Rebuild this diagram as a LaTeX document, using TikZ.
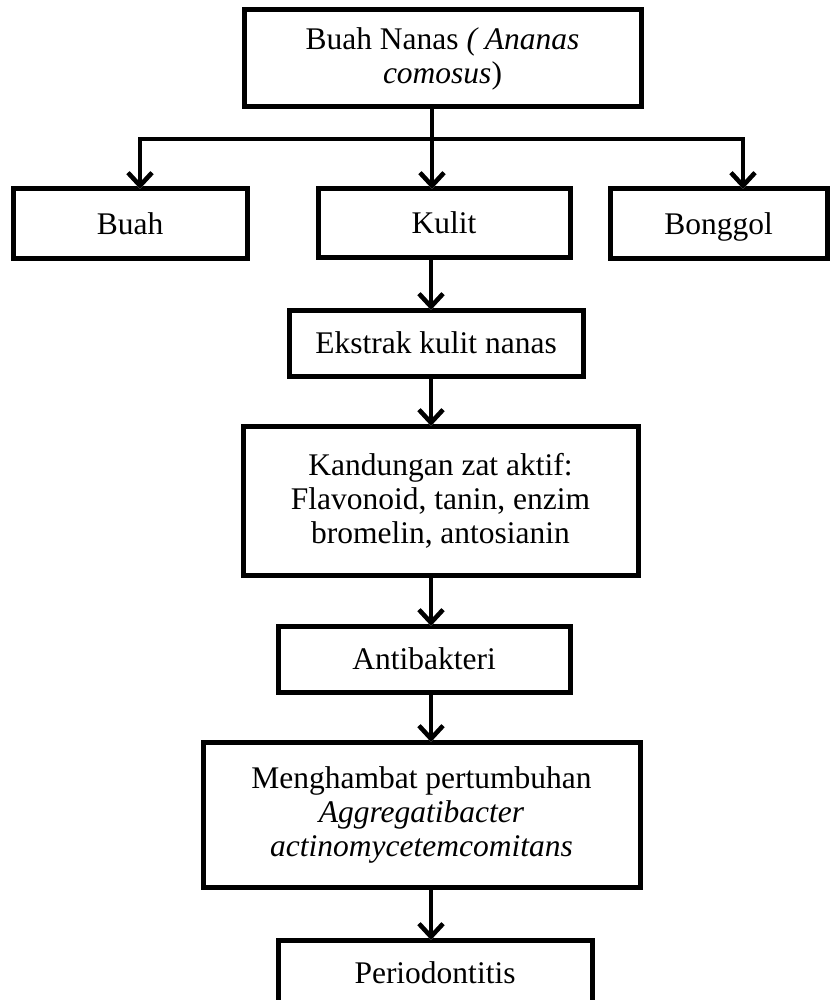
\documentclass[tikz,border=0pt]{standalone}
\usepackage{fontspec}
\setmainfont{Liberation Serif}
\usetikzlibrary{arrows.meta}
\begin{document}
\begin{tikzpicture}[x=1pt,y=-1pt,
  box/.style={draw, line width=5pt, align=center, inner sep=0pt, outer sep=0pt,
    font=\fontsize{31.5}{34}\selectfont},
  nodepth/.style={text depth=0pt},
  conn/.style={line width=4.5pt, line cap=rect},
  arr/.style={conn, -{Straight Barb[length=13pt,width=24pt]}},
  shadow/.style={gray!55, xshift=2pt, yshift=-3.5pt}]
\useasboundingbox (0,0) rectangle (831,1000);
\fill[white] (0,0) rectangle (831,1000);
% boxes
\node[box, minimum width=397pt, minimum height=97pt] (top) at (442.5,58.5) {Buah Nanas \textit{( Ananas}\\\textit{comosus})};
\node[box, minimum width=234pt, minimum height=69pt] (buah) at (130,223.5) {Buah};
\node[box, minimum width=252pt, minimum height=68pt] (kulit) at (444,223) {Kulit};
\node[box, nodepth, minimum width=217pt, minimum height=69pt] (bonggol) at (718.5,223.5) {Bonggol};
\node[box, minimum width=294pt, minimum height=66pt] (ekstrak) at (436,343) {Ekstrak kulit nanas};
\node[box, minimum width=395pt, minimum height=149pt] (kand) at (440.5,500.5) {Kandungan zat aktif:\\Flavonoid, tanin, enzim\\bromelin, antosianin};
\node[box, minimum width=292pt, minimum height=66pt] (anti) at (424,659) {Antibakteri};
\node[box, minimum width=437pt, minimum height=145pt] (meng) at (421.5,814.5) {Menghambat pertumbuhan\\\textit{Aggregatibacter}\\\textit{actinomycetemcomitans}};
\node[box, minimum width=314pt, minimum height=66pt] (perio) at (435,973) {Periodontitis};
% connector coordinates
\coordinate (bl) at (140,139);
\coordinate (bm) at (432,139);
\coordinate (br) at (743,139);
\coordinate (ax) at (431,0);
% shadows
\begin{scope}[shadow]
\draw[conn] (top.south -| bm) -- (bm);
\draw[conn] (bl) -- (br);
\draw[arr] (bl) -- (buah.north -| bl);
\draw[arr] (bm) -- (kulit.north -| bm);
\draw[arr] (br) -- (bonggol.north -| br);
\draw[arr] (kulit.south -| ax) -- (ekstrak.north -| ax);
\draw[arr] (ekstrak.south -| ax) -- (kand.north -| ax);
\draw[arr] (kand.south -| ax) -- (anti.north -| ax);
\draw[arr] (anti.south -| ax) -- (meng.north -| ax);
\draw[arr] (meng.south -| ax) -- (perio.north -| ax);
\end{scope}
% connectors
\draw[conn] (top.south -| bm) -- (bm);
\draw[conn] (bl) -- (br);
\draw[arr] (bl) -- (buah.north -| bl);
\draw[arr] (bm) -- (kulit.north -| bm);
\draw[arr] (br) -- (bonggol.north -| br);
\draw[arr] (kulit.south -| ax) -- (ekstrak.north -| ax);
\draw[arr] (ekstrak.south -| ax) -- (kand.north -| ax);
\draw[arr] (kand.south -| ax) -- (anti.north -| ax);
\draw[arr] (anti.south -| ax) -- (meng.north -| ax);
\draw[arr] (meng.south -| ax) -- (perio.north -| ax);
\end{tikzpicture}
\end{document}
